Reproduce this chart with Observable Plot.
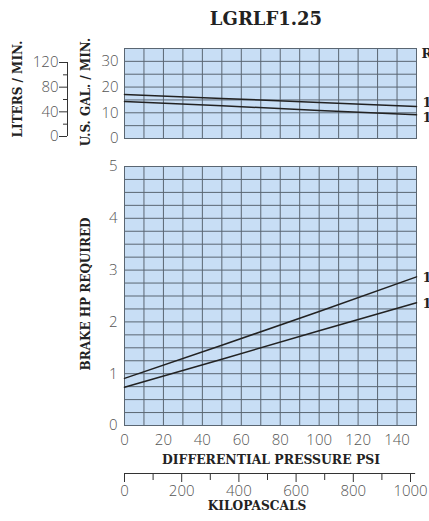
<!DOCTYPE html>
<html>
<head>
<meta charset="utf-8">
<script src="https://cdn.jsdelivr.net/npm/d3@7"></script>
<script src="https://cdn.jsdelivr.net/npm/@observablehq/plot@0.6"></script>
<style>
  html, body { margin: 0; padding: 0; background: #fff; overflow: hidden; }
  #wrap { position: relative; width: 429px; height: 521px; overflow: hidden; }
  #wrap > svg, #wrap > figure { position: absolute; left: 0; margin: 0; }
  .lbl { position: absolute; font-family: "DejaVu Serif", serif; font-weight: bold; color: #222; white-space: nowrap; transform: translate(-50%, -50%); }
  .rot { transform: translate(-50%, -50%) rotate(-90deg); }
</style>
</head>
<body>
<div id="wrap"></div>
<script>
// ---- data ----
const psi = [0, 50, 100, 150];
const gpm1750 = [17.1, 15.6, 14.0, 12.4];
const gpm1450 = [14.4, 12.7, 10.9, 9.2];
const hp1750 = [0.91, 1.55, 2.2, 2.87];
const hp1450 = [0.74, 1.28, 1.83, 2.37];
const seriesNames = ["1750 RPM", "1450 RPM"];
const psiTicks = [0, 20, 40, 60, 80, 100, 120, 140];
const gpmTicks = [0, 10, 20, 30];
const hpTicks = [0, 1, 2, 3, 4, 5];
const literTicks = [0, 40, 80, 120];
const literMinor = [20, 60, 100];
const kpaTicks = [0, 200, 400, 600, 800, 1000];
const kpaMinor = [100, 300, 500, 700, 900];
const chartTitle = "LGRLF1.25";

const fill = "#c8def5";
const gridC = "#5a6672";
const lineC = "#222";
const numFont = { fontFamily: "'Open Sans', Lato, sans-serif", fontWeight: 300, fontSize: "15px", color: "#555", background: "transparent", overflow: "visible" };
const intFmt = d3.format("d");

const flow = psi.flatMap((p, i) => [
  { psi: p, v: gpm1750[i], s: seriesNames[0], dy: -4 },
  { psi: p, v: gpm1450[i], s: seriesNames[1], dy: 3 }
]);
const hpData = psi.flatMap((p, i) => [
  { psi: p, v: hp1750[i], s: seriesNames[0] },
  { psi: p, v: hp1450[i], s: seriesNames[1] }
]);

const wrap = document.getElementById("wrap");
function place(el, t) { el.style.top = t + "px"; el.style.position = "absolute"; wrap.appendChild(el); }
function label(text, x, y, size, rot) {
  const d = document.createElement("div");
  d.className = "lbl" + (rot ? " rot" : "");
  d.textContent = text;
  d.style.left = x + "px"; d.style.top = y + "px"; d.style.fontSize = size + "px";
  wrap.appendChild(d);
}
const endLbl = { fontFamily: "DejaVu Serif", fontWeight: "bold", fontSize: 13, fill: "#222", textAnchor: "start" };

// ---- top panel: flow ----
const topPlot = Plot.plot({
  width: 429, height: 120,
  marginLeft: 124, marginRight: 13, marginTop: 18, marginBottom: 12,
  style: numFont,
  x: { domain: [0, 150], axis: null },
  y: { domain: [0, 35], axis: null },
  marks: [
    Plot.frame({ fill: fill, stroke: null }),
    Plot.gridX({ ticks: d3.range(0, 151, 10), stroke: gridC, strokeOpacity: 1, strokeWidth: 1 }),
    Plot.gridY({ ticks: d3.range(0, 35.1, 5), stroke: gridC, strokeOpacity: 1, strokeWidth: 1 }),
    Plot.frame({ stroke: gridC, strokeWidth: 1 }),
    Plot.axisY({ ticks: gpmTicks, tickSize: 0, tickPadding: 6, tickFormat: intFmt, label: null }),
    Plot.line(flow, { x: "psi", y: "v", z: "s", stroke: lineC, strokeWidth: 1.5 }),
    Plot.text(flow.filter(d => d.psi === 150 && d.dy < 0), { x: "psi", y: "v", text: "s", dx: 6, dy: -4, ...endLbl }),
    Plot.text(flow.filter(d => d.psi === 150 && d.dy > 0), { x: "psi", y: "v", text: "s", dx: 6, dy: 3, ...endLbl }),
    Plot.text(["RPM"], { x: 150, y: 33, text: d => d, dx: 5, ...endLbl })
  ]
});
place(topPlot, 30);

// ---- liters axis ----
const litPlot = Plot.plot({
  width: 80, height: 110,
  marginLeft: 67, marginRight: 12, marginTop: 22, marginBottom: 14,
  style: numFont,
  x: { domain: [0, 1], axis: null },
  y: { domain: [0, 120], axis: null },
  marks: [
    Plot.axisY({ ticks: literTicks, tickSize: 8, tickPadding: 1, stroke: "#333", tickFormat: intFmt, label: null }),
    Plot.axisY({ ticks: literMinor, tickSize: 4, text: null, stroke: "#333", label: null }),
    Plot.ruleX([0], { y1: 0, y2: 120, stroke: "#333" })
  ]
});
place(litPlot, 40);

// ---- bottom panel: brake HP ----
const botPlot = Plot.plot({
  width: 429, height: 310,
  marginLeft: 124, marginRight: 13, marginTop: 16, marginBottom: 35,
  style: numFont,
  x: { domain: [0, 150] },
  y: { domain: [0, 5] },
  marks: [
    Plot.frame({ fill: fill, stroke: null }),
    Plot.gridX({ ticks: d3.range(0, 151, 10), stroke: gridC, strokeOpacity: 1, strokeWidth: 1 }),
    Plot.gridY({ ticks: d3.range(0, 5.01, 0.25), stroke: gridC, strokeOpacity: 1, strokeWidth: 1 }),
    Plot.frame({ stroke: gridC, strokeWidth: 1 }),
    Plot.axisY({ ticks: hpTicks, tickSize: 0, tickPadding: 7, tickFormat: intFmt, label: null }),
    Plot.axisX({ ticks: psiTicks, tickSize: 0, tickPadding: 9, tickFormat: intFmt, label: null }),
    Plot.line(hpData, { x: "psi", y: "v", z: "s", stroke: lineC, strokeWidth: 1.5 }),
    Plot.text(hpData.filter(d => d.psi === 150), { x: "psi", y: "v", text: "s", dx: 6, dy: 1, ...endLbl })
  ]
});
place(botPlot, 150);

// ---- kilopascals axis ----
const kpaPlot = Plot.plot({
  width: 429, height: 60,
  marginLeft: 124, marginRight: 19, marginTop: 13, marginBottom: 37,
  style: numFont,
  x: { domain: [0, 1000] },
  y: { domain: [0, 1], axis: null },
  marks: [
    Plot.ruleY([0], { x1: 0, x2: 1018, stroke: "#333" }),
    Plot.axisX({ ticks: kpaTicks, tickSize: 9, tickPadding: 3, tickFormat: intFmt, label: null, stroke: "#333" }),
    Plot.axisX({ ticks: kpaMinor, tickSize: 7, text: null, label: null, stroke: "#333" })
  ]
});
place(kpaPlot, 450);

// ---- text labels ----
label(chartTitle, 266, 18, 18, false);
label("DIFFERENTIAL PRESSURE PSI", 271, 459, 12.4, false);
label("KILOPASCALS", 257, 506, 12.2, false);
label("BRAKE HP REQUIRED", 86, 294, 12, true);
label("U.S. GAL. / MIN.", 86, 92, 12, true);
label("LITERS / MIN.", 18, 89, 12, true);
</script>
</body>
</html>
